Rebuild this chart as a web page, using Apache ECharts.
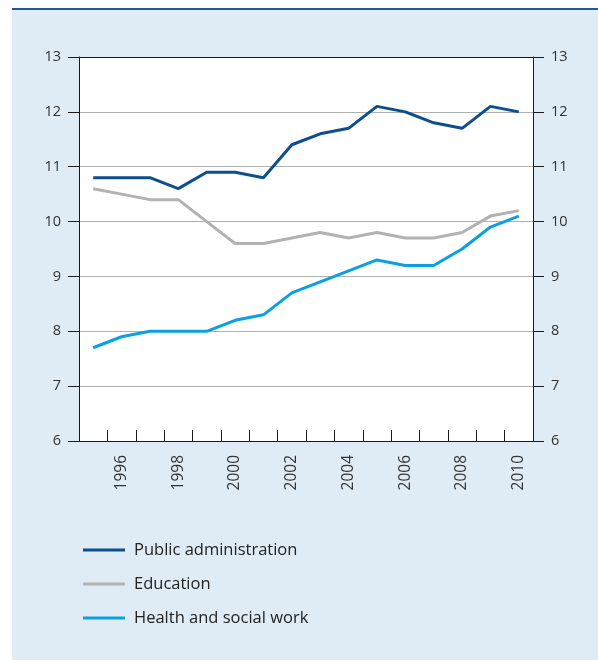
<!DOCTYPE html>
<html>
<head>
<meta charset="utf-8">
<script src="https://cdn.jsdelivr.net/npm/echarts@6/dist/echarts.min.js"></script>
<style>
html,body{margin:0;padding:0;background:#fff;}
#chart{width:598px;height:661px;}
</style>
</head>
<body>
<div id="chart"></div>
<script>
const years = ['1995','1996','1997','1998','1999','2000','2001','2002','2003','2004','2005','2006','2007','2008','2009','2010'];
const publicAdministration = [10.8,10.8,10.8,10.6,10.9,10.9,10.8,11.4,11.6,11.7,12.1,12.0,11.8,11.7,12.1,12.0];
const education = [10.6,10.5,10.4,10.4,10.0,9.6,9.6,9.7,9.8,9.7,9.8,9.7,9.7,9.8,10.1,10.2];
const healthSocialWork = [7.7,7.9,8.0,8.0,8.0,8.2,8.3,8.7,8.9,9.1,9.3,9.2,9.2,9.5,9.9,10.1];
const seriesNames = ['Public administration','Education','Health and social work'];
const yMin = 6, yMax = 13, yInterval = 1;

const FONT = '"Open Sans", "Noto Sans", sans-serif';
const chart = echarts.init(document.getElementById('chart'), null, {renderer:'canvas'});
const gridColors = ['#1a1a1a','#b0b0b0','#b0b0b0','#b0b0b0','#b0b0b0','#b0b0b0','#b0b0b0','#1a1a1a'];

function yAxisDef(pos){
  return {
    type:'value', position:pos, min:yMin, max:yMax, interval:yInterval,
    axisLine:{show:true, lineStyle:{color:'#1a1a1a', width:1}},
    axisTick:{show:true, inside:false, length:11, lineStyle:{color:'#1a1a1a'}},
    axisLabel:{color:'#333', fontSize:14.5, fontFamily:FONT, margin:18},
    splitLine:{show: pos==='left', lineStyle:{color:gridColors, width:1}}
  };
}

chart.setOption({
  animation:false,
  backgroundColor:'#ffffff',
  graphic:[
    {type:'rect', shape:{x:12, y:10, width:586, height:650}, style:{fill:'#dfecf5'}, z:-10},
    {type:'rect', shape:{x:12, y:8, width:586, height:2}, style:{fill:'#1d5a98'}, z:-9}
  ],
  grid:{left:79, right:65, top:57, bottom:220, show:true, backgroundColor:'#ffffff', borderWidth:0},
  legend:{
    orient:'vertical', left:78, top:535,
    data:seriesNames,
    icon:'rect', itemWidth:42, itemHeight:3, itemGap:14,
    textStyle:{color:'#222', fontSize:16.5, fontFamily:FONT, lineHeight:20, padding:[0,0,0,4]}
  },
  xAxis:{
    type:'category', data:years, boundaryGap:true,
    axisLine:{show:true, lineStyle:{color:'#1a1a1a', width:1}},
    axisTick:{show:true, inside:true, length:11, interval:0, lineStyle:{color:'#1a1a1a'}},
    axisLabel:{rotate:90, margin:14, color:'#333', fontSize:15.5, fontFamily:FONT,
      interval:function(i){ return i % 2 === 1; }},
    splitLine:{show:false}
  },
  yAxis:[yAxisDef('left'), yAxisDef('right')],
  series:[
    {name:seriesNames[0], type:'line', data:publicAdministration, showSymbol:false, symbol:'none',
     lineStyle:{color:'#0d4e8c', width:3}, itemStyle:{color:'#0d4e8c'}},
    {name:seriesNames[1], type:'line', data:education, showSymbol:false, symbol:'none',
     lineStyle:{color:'#b2b2b2', width:3}, itemStyle:{color:'#b2b2b2'}},
    {name:seriesNames[2], type:'line', data:healthSocialWork, showSymbol:false, symbol:'none',
     lineStyle:{color:'#0aa0e2', width:3}, itemStyle:{color:'#0aa0e2'}}
  ]
});
</script>
</body>
</html>
